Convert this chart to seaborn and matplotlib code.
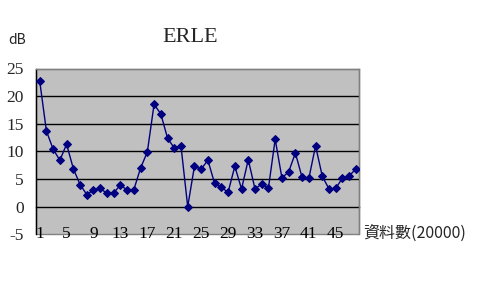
import matplotlib
matplotlib.use("Agg")
import matplotlib.pyplot as plt
import seaborn as sns
import pandas as pd
import numpy as np

# ---- data ----
samples = list(range(1, 49))
erle_db = [22.8, 13.7, 10.4, 8.4, 11.3, 6.9, 4.0, 2.2, 3.0, 3.3,
           2.4, 2.5, 3.9, 3.0, 3.1, 7.0, 9.9, 18.5, 16.8, 12.4,
           10.6, 11.0, 0.0, 7.3, 6.8, 8.4, 4.2, 3.5, 2.6, 7.3,
           3.2, 8.5, 3.2, 4.1, 3.4, 12.2, 5.2, 6.3, 9.7, 5.3,
           5.1, 11.0, 5.5, 3.2, 3.3, 5.2, 5.6, 6.8]
x_tick_labels = ["1", "5", "9", "13", "17", "21", "25", "29", "33", "37", "41", "45"]
y_ticks = [-5, 0, 5, 10, 15, 20, 25]
title = "ERLE"
y_unit = "dB"
x_label = "資料數(20000)"

df = pd.DataFrame({"sample": samples, "erle": erle_db})

sns.set_style("white")
plt.rcParams["font.family"] = ["Noto Sans CJK TC", "DejaVu Sans"]
DIGIT_FONT = ["Liberation Serif", "DejaVu Serif"]

W, H = 492, 288
fig = plt.figure(figsize=(W / 100, H / 100), dpi=100)
ax = fig.add_axes([36.3 / W, 1 - 234.3 / H, (359.3 - 36.3) / W, (234.3 - 68.5) / H])
ax.set_facecolor("#C0C0C0")

n = len(samples)
ax.set_xlim(0.5, n + 0.5)
ax.set_ylim(y_ticks[0], y_ticks[-1])

# gridlines (inner ones black)
for yv in y_ticks[1:-1]:
    if yv != 0:
        ax.axhline(yv, color="black", lw=1.0, zorder=1)

sns.lineplot(data=df, x="sample", y="erle", ax=ax, color="#000080",
             lw=1.0, marker="D", markersize=3.6, markeredgecolor="#000080",
             markerfacecolor="#000080", zorder=3)
ax.set_xlabel("")
ax.set_ylabel("")

# spines
ax.patch.set_edgecolor("#808080")
ax.patch.set_linewidth(1.0)
for s in ["top", "right"]:
    ax.spines[s].set_color("#808080")
    ax.spines[s].set_linewidth(1.0)
ax.spines["left"].set_color("black")
ax.spines["left"].set_linewidth(1.0)
ax.spines["bottom"].set_position(("data", 0))
ax.spines["bottom"].set_color("black")
ax.spines["bottom"].set_linewidth(1.0)
ax.spines["bottom"].set_zorder(2)

# x ticks on zero line between categories, pointing up
ax.set_xticks(np.arange(0.5, n + 1, 1.0))
ax.tick_params(axis="x", direction="in", length=5, width=1, color="black",
               labelbottom=False)
# category labels centered on the bottom edge
tr = matplotlib.transforms.blended_transform_factory(ax.transData, ax.transAxes)
for lab in x_tick_labels:
    ax.text(int(lab), 0.0, lab, transform=tr, ha="center", va="center",
            fontsize=12.5, color="black", zorder=5, family=DIGIT_FONT)

# y axis
ax.set_yticks(y_ticks)
ax.set_yticklabels([str(v) for v in y_ticks], family=DIGIT_FONT)
ax.tick_params(axis="y", direction="out", length=3, width=1, color="black",
               labelsize=12.5, pad=6)

fig.text(190 / W, 1 - 38 / H, title, ha="center", va="center",
         fontsize=16, family="Liberation Serif")
fig.text(8 / W, 1 - 40 / H, y_unit, ha="left", va="center", fontsize=10)
fig.text(363 / W, 1 - 233 / H, x_label, ha="left", va="center", fontsize=11.5)

fig.savefig("out.png", dpi=100)
